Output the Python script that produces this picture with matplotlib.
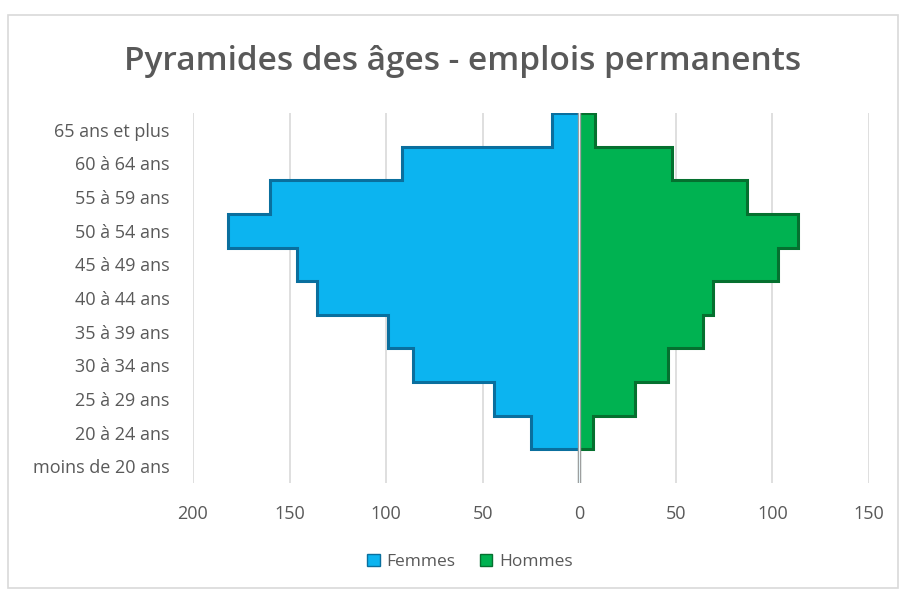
import numpy as np
import matplotlib.pyplot as plt
from matplotlib.patches import Rectangle

# age groups, bottom to top
age_groups = ['moins de 20 ans', '20 à 24 ans', '25 à 29 ans', '30 à 34 ans',
              '35 à 39 ans', '40 à 44 ans', '45 à 49 ans', '50 à 54 ans',
              '55 à 59 ans', '60 à 64 ans', '65 ans et plus']
femmes = [0, 25, 44, 86, 99, 136, 146, 182, 160, 92, 14]
hommes = [0, 7, 29, 46, 64, 69, 103, 113, 87, 48, 8]

x_ticks = [-200, -150, -100, -50, 0, 50, 100, 150]
x_tick_labels = ['200', '150', '100', '50', '0', '50', '100', '150']

blue, blue_dark = '#0cb4f0', '#0a6f9e'
green, green_dark = '#00b251', '#05702f'
text_grey = '#595959'

fig = plt.figure(figsize=(9.01, 5.90), dpi=100)
fig.patches.append(Rectangle((8 / 901, 2 / 590), 890 / 901, 573 / 590,
                             transform=fig.transFigure, fill=False,
                             edgecolor='#d9d9d9', linewidth=1.2))

ax = fig.add_axes([193 / 901, 1 - 483 / 590, 676 / 901, 370 / 590])
y = np.arange(len(age_groups))
edges = np.arange(len(age_groups) + 1) - 0.5
neg_f = -np.array(femmes)

ax.barh(y, neg_f, height=1.0, color=blue, linewidth=0, zorder=2)
ax.barh(y, hommes, height=1.0, color=green, linewidth=0, zorder=2)

# darker outline of the stepped silhouette
ax.stairs(neg_f, edges, orientation='horizontal', baseline=0, color=blue_dark,
          linewidth=2.2, zorder=2.5)
ax.stairs(hommes, edges, orientation='horizontal', baseline=0, color=green_dark,
          linewidth=2.2, zorder=2.5)

ax.axvline(0, color='#9a9a9a', linewidth=2.4, zorder=3)
ax.axvline(0, color='#e8f6fb', linewidth=0.8, zorder=3.1)

ax.set_xlim(-200, 150)
ax.set_ylim(-0.5, len(age_groups) - 0.5)
ax.set_xticks(x_ticks)
ax.set_xticklabels(x_tick_labels)
ax.set_yticks(y)
ax.set_yticklabels(age_groups)
ax.grid(axis='x', color='#d9d9d9', linewidth=1.2, zorder=0)
ax.set_axisbelow(True)
for s in ax.spines.values():
    s.set_visible(False)
ax.tick_params(length=0, labelsize=13, labelcolor=text_grey)
ax.tick_params(axis='y', pad=17)
ax.tick_params(axis='x', pad=16)
for lbl in ax.get_xticklabels() + ax.get_yticklabels():
    lbl.set_fontfamily('Open Sans')

fig.text(463 / 901, 1 - 62 / 590, 'Pyramides des âges - emplois permanents',
         ha='center', va='center', fontsize=24, fontweight='semibold',
         color=text_grey, family='Open Sans')

handles = [Rectangle((0, 0), 1, 1, facecolor=blue, edgecolor=blue_dark),
           Rectangle((0, 0), 1, 1, facecolor=green, edgecolor=green_dark)]
fig.legend(handles, ['Femmes', 'Hommes'], loc='center', bbox_to_anchor=(470 / 901, 1 - 562 / 590),
           ncol=2, frameon=False, handlelength=0.7, handleheight=0.7, handletextpad=0.4,
           columnspacing=1.4, prop={'family': 'Open Sans', 'size': 12.5}, labelcolor=text_grey)

fig.savefig('out.png', dpi=100)
